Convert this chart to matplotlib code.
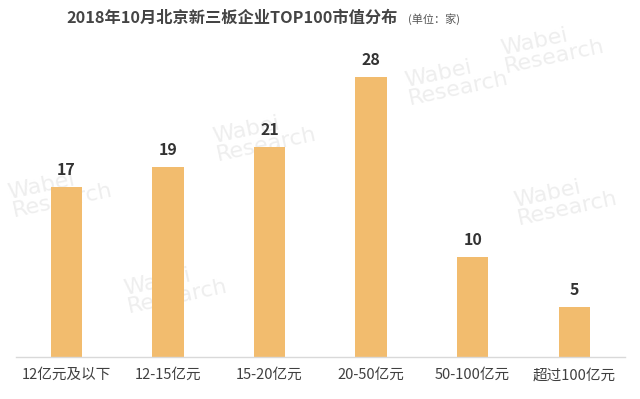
import matplotlib
matplotlib.use("Agg")
import matplotlib.pyplot as plt

plt.rcParams['font.family'] = ['Noto Sans CJK SC', 'DejaVu Sans']

categories = ['12亿元及以下', '12-15亿元', '15-20亿元', '20-50亿元', '50-100亿元', '超过100亿元']
values = [17, 19, 21, 28, 10, 5]
title_main = '2018年10月北京新三板企业TOP100市值分布'
title_unit = '(单位：家)'

bar_color = '#F2BC6E'

fig = plt.figure(figsize=(6.4, 3.99), dpi=100)

# faint watermarks
wm_pos = [(0.01, 0.52), (0.33, 0.66), (0.63, 0.80), (0.19, 0.28), (0.80, 0.50), (0.78, 0.88)]
for wx, wy in wm_pos:
    fig.text(wx, wy, 'Wabei\nResearch', fontsize=16, color='#eeeeee', rotation=12,
             ha='left', va='center', family='DejaVu Sans', linespacing=0.9, zorder=-1)

ax = fig.add_axes([0.0246, 0.105, 0.952, 0.752])
ax.patch.set_alpha(0)
x = range(len(categories))
ax.bar(x, values, width=0.31, color=bar_color, zorder=2)
ax.set_xlim(-0.5, len(categories) - 0.5)
ax.set_ylim(0, 30)
for xi, v in zip(x, values):
    ax.text(xi, v + 0.9, str(v), ha='center', va='bottom', fontsize=11.5,
            fontweight='bold', color='#333333', zorder=3)
ax.set_xticks(list(x))
ax.set_xticklabels(categories, fontsize=10.5, color='#404040', fontweight='medium')
ax.tick_params(axis='x', length=0, pad=8)
ax.set_yticks([])
for s in ['top', 'right', 'left']:
    ax.spines[s].set_visible(False)
ax.spines['bottom'].set_color('#d9d9d9')
ax.spines['bottom'].set_linewidth(1)

fig.text(0.6215, 0.955, title_main, ha='right', va='center', fontsize=11.7,
         fontweight='bold', color='#444444')
fig.text(0.637, 0.952, title_unit, ha='left', va='center', fontsize=8,
         color='#555555')

fig.savefig('out.png', dpi=100)
